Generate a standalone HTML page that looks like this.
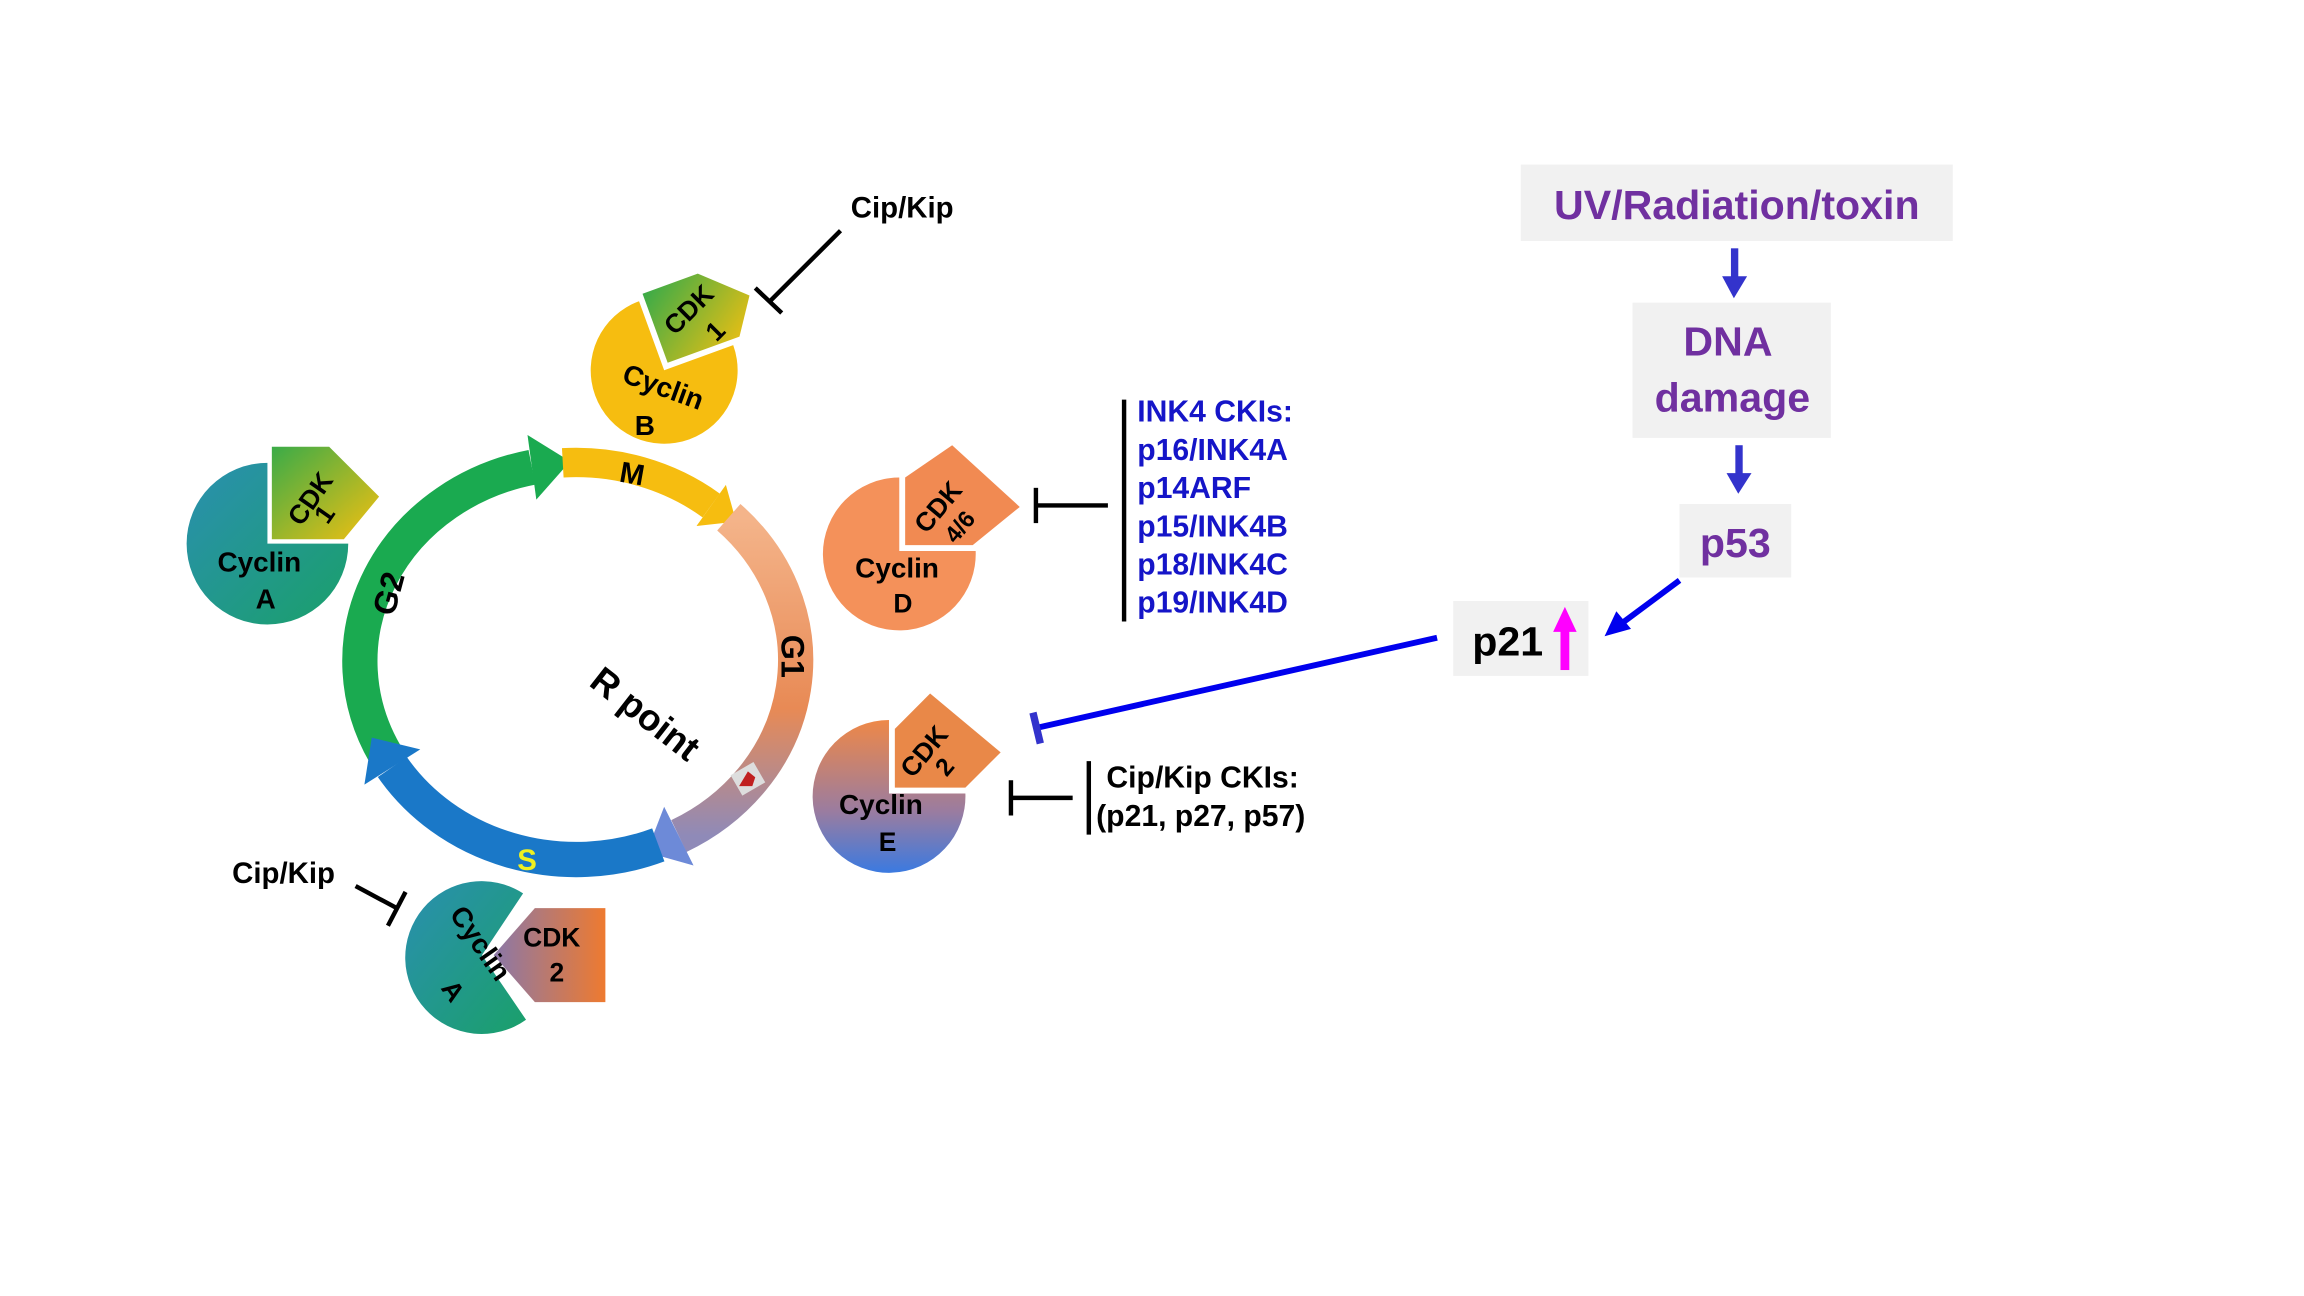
<!DOCTYPE html>
<html><head><meta charset="utf-8"><style>html,body{margin:0;padding:0;background:#fff}svg{display:block}</style></head>
<body>
<svg width="2304" height="1296" viewBox="0 0 1568 882" xmlns="http://www.w3.org/2000/svg" font-family="Liberation Sans, sans-serif" font-weight="bold">
<defs>
<linearGradient id="g1" x1="0" y1="0" x2="0" y2="1"><stop offset="0" stop-color="#f4b48a"/><stop offset="0.6" stop-color="#e88a55"/><stop offset="1" stop-color="#8f8ab8"/></linearGradient>
<linearGradient id="tealA" x1="0" y1="0" x2="1" y2="1"><stop offset="0" stop-color="#2a8fb0"/><stop offset="1" stop-color="#1aa06a"/></linearGradient>
<linearGradient id="cdk1" x1="0" y1="0" x2="1" y2="1"><stop offset="0" stop-color="#3aab48"/><stop offset="1" stop-color="#f5c010"/></linearGradient>
<linearGradient id="cycE" x1="0" y1="0" x2="0" y2="1"><stop offset="0" stop-color="#ee8848"/><stop offset="0.6" stop-color="#9a7ca0"/><stop offset="1" stop-color="#3b7ae0"/></linearGradient>
<linearGradient id="cdk2b" x1="0" y1="0" x2="1" y2="0"><stop offset="0" stop-color="#8a78a8"/><stop offset="1" stop-color="#ee7a30"/></linearGradient>
</defs>

<!-- cycle arcs -->
<path d="M262,513 A148,135 0 0 1 362,318" fill="none" stroke="#1aaa50" stroke-width="24"/>
<polygon points="365,340 359,296 388,314" fill="#1aaa50"/>
<path d="M383,315 A148,135 0 0 1 484,344" fill="none" stroke="#f6bd10" stroke-width="20"/>
<polygon points="474,358 494,330 501,355" fill="#f6bd10"/>
<path d="M496,352 A148,135 0 0 1 462,569" fill="none" stroke="url(#g1)" stroke-width="24"/>
<polygon points="472,589 452,549 440,580" fill="#6d8ad8"/>
<path d="M448,575 A148,135 0 0 1 267,522" fill="none" stroke="#1a78c8" stroke-width="24"/>
<polygon points="286,510 248,534 253,502" fill="#1a78c8"/>
<rect x="500" y="522" width="18" height="16" fill="#ddd" transform="rotate(-30 509 530)"/>
<path d="M503,535 l6,-10 l5,4 l-2,6z" fill="#c02020"/>
<text x="422" y="330" font-size="20" transform="rotate(10 435 322)">M</text>
<text x="0" y="0" font-size="22" transform="translate(532,432) rotate(90)">G1</text>
<text x="0" y="0" font-size="22" transform="translate(268,420) rotate(-75)">G2</text>
<text x="352" y="592" font-size="20" fill="#f0f020">S</text>
<text x="0" y="0" font-size="25" font-weight="bold" transform="translate(400,466) rotate(38)">R point</text>

<!-- Cyclin B -->
<g transform="translate(452,252) rotate(-20)">
<path d="M0,0 L0,-50 A50,50 0 1 0 50,0 Z" fill="#f6bd10"/>
<path d="M4,-4 L4,-54 L44,-54 L72,-28 L56,-4 Z" fill="url(#cdk1)"/>
<text x="12" y="-24" font-size="18" transform="rotate(-25 24 -28)">CDK</text>
<text x="38" y="-6" font-size="18" transform="rotate(-25 40 -10)">1</text>
<text x="-38" y="22" font-size="19" transform="rotate(40 0 20)">Cyclin</text>
</g>
<text x="432" y="296" font-size="19">B</text>

<!-- Cyclin A left -->
<g transform="translate(182,370)">
<path d="M0,0 L0,-55 A55,55 0 1 0 55,0 Z" fill="url(#tealA)"/>
<path d="M3,-3 L3,-66 L42,-66 L76,-32 L52,-3 Z" fill="url(#cdk1)"/>
<text x="8" y="-20" font-size="18" transform="rotate(-55 24 -30)">CDK</text>
<text x="36" y="-14" font-size="18" transform="rotate(-55 40 -18)">1</text>
<text x="-34" y="19" font-size="19">Cyclin</text>
<text x="-8" y="44" font-size="19">A</text>
</g>

<!-- Cyclin D -->
<g transform="translate(612,375)">
<path d="M0,0 L0,-50 A52,52 0 1 0 52,0 Z" fill="#f4915a"/>
<path d="M4,-4 L4,-50 L36,-72 L82,-30 L50,-4 Z" fill="#f18a52"/>
<text x="6" y="-22" font-size="18" transform="rotate(-50 24 -30)">CDK</text>
<text x="30" y="-10" font-size="16" transform="rotate(-50 40 -16)">4/6</text>
<text x="-30" y="18" font-size="19">Cyclin</text>
<text x="-4" y="42" font-size="18">D</text>
</g>

<!-- Cyclin E -->
<g transform="translate(605,540)">
<path d="M0,0 L0,-50 A52,52 0 1 0 52,0 Z" fill="url(#cycE)"/>
<path d="M4,-4 L4,-44 L28,-68 L76,-28 L52,-4 Z" fill="#e98848"/>
<text x="2" y="-20" font-size="18" transform="rotate(-50 20 -30)">CDK</text>
<text x="34" y="-14" font-size="17" transform="rotate(-50 40 -18)">2</text>
<text x="-34" y="14" font-size="19">Cyclin</text>
<text x="-7" y="39" font-size="18">E</text>
</g>

<!-- Cyclin A bottom -->
<g transform="translate(328,650)">
<path d="M0,0 L28,-42 A52,52 0 1 0 30,44 Z" fill="url(#tealA)"/>
<path d="M8,0 L36,-32 L84,-32 L84,32 L36,32 Z" fill="url(#cdk2b)"/>
<text x="28" y="-6" font-size="18">CDK</text>
<text x="46" y="18" font-size="18">2</text>
<text x="-36" y="-18" font-size="19" transform="rotate(55 -20 -10)">Cyclin</text>
<text x="-26" y="30" font-size="18" transform="rotate(55 -20 24)">A</text>
</g>

<!-- inhibitors -->
<g stroke="#000" stroke-width="3" fill="none">
<line x1="572" y1="157" x2="524" y2="205"/><line x1="514" y1="196" x2="532" y2="213"/>
<line x1="754" y1="344" x2="705" y2="344"/><line x1="705" y1="332" x2="705" y2="356"/>
<line x1="765" y1="272" x2="765" y2="423"/>
<line x1="730" y1="543" x2="688" y2="543"/><line x1="688" y1="531" x2="688" y2="555"/>
<line x1="741" y1="518" x2="741" y2="568"/>
<line x1="242" y1="603" x2="270" y2="618"/><line x1="264" y1="630" x2="276" y2="607"/>
</g>
<text x="579" y="148" font-size="20">Cip/Kip</text>
<text x="158" y="601" font-size="20">Cip/Kip</text>
<g font-size="20.5" fill="#1515c8">
<text x="774" y="287">INK4 CKIs:</text>
<text x="774" y="313">p16/INK4A</text>
<text x="774" y="339">p14ARF</text>
<text x="774" y="365">p15/INK4B</text>
<text x="774" y="391">p18/INK4C</text>
<text x="774" y="417">p19/INK4D</text>
</g>
<text x="753" y="536" font-size="20.5">Cip/Kip CKIs:</text>
<text x="746" y="562" font-size="20.5">(p21, p27, p57)</text>

<!-- flowchart -->
<g font-family="Liberation Sans, DejaVu Sans, sans-serif" fill="#7030a0" font-size="28">
<rect x="1035" y="112" width="294" height="52" fill="#f1f1f1"/>
<text x="1182" y="149" text-anchor="middle">UV/Radiation/toxin</text>
<rect x="1111" y="206" width="135" height="92" fill="#f1f1f1"/>
<text x="1176" y="242" text-anchor="middle">DNA</text>
<text x="1179" y="280" text-anchor="middle">damage</text>
<rect x="1143" y="343" width="76" height="50" fill="#f1f1f1"/>
<text x="1181" y="379" text-anchor="middle">p53</text>
<rect x="989" y="409" width="92" height="51" fill="#f1f1f1"/>
<text x="1002" y="446" fill="#000">p21</text>
</g>
<rect x="1062" y="428" width="6" height="28" fill="#ff00ff"/>
<polygon points="1057,430 1065,413 1073,430" fill="#ff00ff"/>
<rect x="1178" y="169" width="5" height="20" fill="#3333cc"/>
<polygon points="1172,188 1189,188 1180,203" fill="#3333cc"/>
<rect x="1181" y="303" width="5" height="20" fill="#3333cc"/>
<polygon points="1175,322 1192,322 1183,336" fill="#3333cc"/>
<line x1="1143" y1="395" x2="1104" y2="424" stroke="#0000ee" stroke-width="4"/>
<polygon points="1092,433 1100,416 1110,428" fill="#0000ee"/>
<line x1="978" y1="434" x2="707" y2="495" stroke="#0000ee" stroke-width="4"/>
<line x1="703" y1="485" x2="708" y2="506" stroke="#3333cc" stroke-width="5"/>
</svg>
</body></html>
